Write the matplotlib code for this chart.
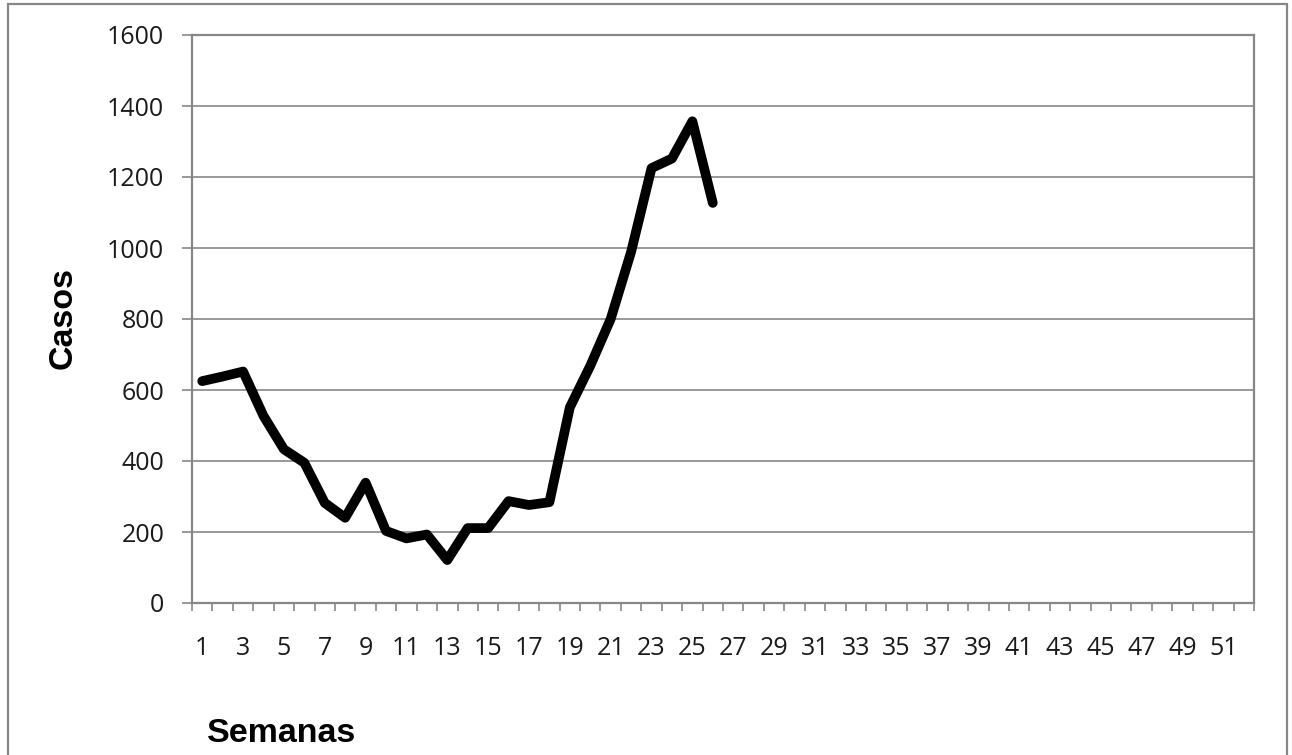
import matplotlib
matplotlib.use("Agg")
import matplotlib.pyplot as plt
from matplotlib.patches import Rectangle
import numpy as np

weeks = list(range(1, 53))
casos = [625, 638, 652, 527, 433, 395, 282, 240, 339, 203, 182, 193, 121,
         211, 211, 287, 276, 284, 551, 668, 800, 989, 1225, 1252, 1357, 1127]
y_ticks = [0, 200, 400, 600, 800, 1000, 1200, 1400, 1600]
x_labels = [str(w) for w in weeks if w % 2 == 1]

GRAY = "#878787"
fig = plt.figure(figsize=(12.92, 7.55), dpi=100)
fig.patches.append(Rectangle((8 / 1292, -0.05), (1287 - 8) / 1292, 1 - 4 / 755 + 0.05,
                             transform=fig.transFigure, fill=False, edgecolor=GRAY,
                             linewidth=1.6))
ax = fig.add_axes([192 / 1292, 1 - 603 / 755, (1254 - 192) / 1292, (603 - 35) / 755])

x = np.array(weeks[:len(casos)])
ax.plot(x, casos, color="black", linewidth=7, solid_joinstyle="round",
        solid_capstyle="round", zorder=3)

ax.set_xlim(0.5, 52.5)
ax.set_ylim(0, 1600)
ax.set_yticks(y_ticks)
ax.set_yticklabels([str(v) for v in y_ticks])
ax.yaxis.grid(True, color=GRAY, linewidth=1.2)
ax.set_axisbelow(True)

ax.set_xticks([w for w in weeks if w % 2 == 1])
ax.set_xticklabels(x_labels)
ax.set_xticks(np.arange(0.5, 53, 1.0), minor=True)
ax.tick_params(axis="x", which="major", length=0, pad=24)
ax.tick_params(axis="x", which="minor", length=6, width=1.2, color=GRAY, direction="out")
ax.tick_params(axis="y", length=7, width=1.2, color=GRAY, direction="out", pad=13)
for lab in ax.get_xticklabels() + ax.get_yticklabels():
    lab.set_fontfamily("Open Sans")
    lab.set_fontsize(18)
    lab.set_color("#1a1a1a")

for s in ax.spines.values():
    s.set_color(GRAY)
    s.set_linewidth(1.6)

fig.text(63 / 1292, 1 - 318 / 755, "Casos", rotation=90, ha="center", va="center",
         fontsize=24.5, fontweight="bold", family="Liberation Sans")
fig.text(282 / 1292, 1 - 733 / 755, "Semanas", ha="center", va="center",
         fontsize=24.5, fontweight="bold", family="Liberation Sans")

fig.savefig("out.png", dpi=100)
